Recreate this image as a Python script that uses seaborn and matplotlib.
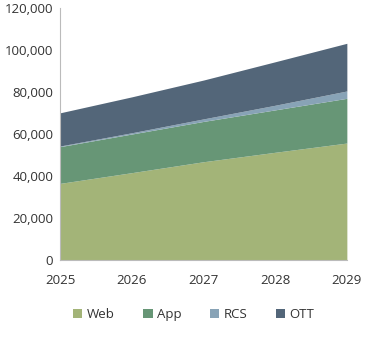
import matplotlib
matplotlib.use("Agg")
import matplotlib.pyplot as plt
import seaborn as sns
from matplotlib.patches import Patch

years = [2025, 2026, 2027, 2028, 2029]
series_names = ["Web", "App", "RCS", "OTT"]
web = [36500, 41600, 46800, 51300, 55700]
app = [17500, 18400, 19200, 20200, 21300]
rcs = [300, 600, 1200, 2200, 3500]
ott = [15800, 17100, 18500, 20700, 22700]
colors = ["#a3b478", "#679676", "#88a3b6", "#536679"]
yticks = [0, 20000, 40000, 60000, 80000, 100000, 120000]

sns.set_theme(style="white")
plt.rcParams["font.family"] = ["Open Sans", "DejaVu Sans"]

fig = plt.figure(figsize=(3.69, 3.41), dpi=100)
ax = fig.add_axes([0.163, 0.2375, 0.777, 0.739])

ax.stackplot(years, web, app, rcs, ott, colors=colors, linewidth=0)
ax.set_xlim(years[0], years[-1])
ax.set_ylim(0, 120000)
ax.set_xticks(years)
ax.set_xticklabels([str(y) for y in years])
ax.set_yticks(yticks)
ax.set_yticklabels([f"{v:,}" for v in yticks])
for s in ["top", "right"]:
    ax.spines[s].set_visible(False)
for s in ["left", "bottom"]:
    ax.spines[s].set_color("#bbbbbb")
    ax.spines[s].set_linewidth(0.8)
ax.tick_params(axis="both", direction="in", length=4, color="#bbbbbb",
               labelsize=9.5, labelcolor="#333333", pad=5)
ax.tick_params(axis="y", length=3)
ax.tick_params(axis="x", pad=10)

handles = [Patch(facecolor=c, edgecolor="none") for c in colors]
fig.legend(handles, series_names, loc="center", bbox_to_anchor=(0.525, 0.078),
           ncol=4, frameon=False, fontsize=9.5, handlelength=0.7, handleheight=0.7,
           handletextpad=0.3, columnspacing=2.2, labelcolor="#333333")

fig.savefig("out.png", dpi=100)
